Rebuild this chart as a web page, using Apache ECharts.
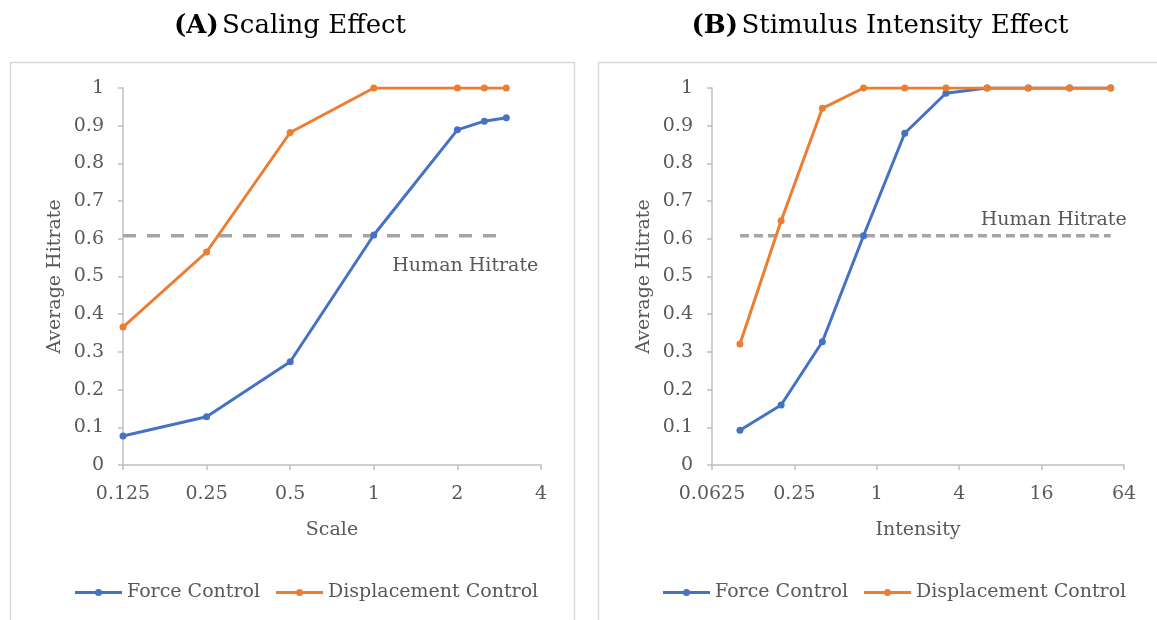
<!DOCTYPE html>
<html>
<head>
<meta charset="utf-8">
<script src="https://cdn.jsdelivr.net/npm/echarts@6/dist/echarts.min.js"></script>
<style>
  html, body { margin: 0; padding: 0; background: #ffffff; }
  #chart { width: 1157px; height: 620px; }
</style>
</head>
<body>
<div id="chart"></div>
<script>
// Panel A: hit rate against object scale
const scaleValues = [0.125, 0.25, 0.5, 1, 2, 2.5, 3];
const scaleForce = [0.077, 0.128, 0.274, 0.61, 0.889, 0.912, 0.921];
const scaleDisplacement = [0.366, 0.565, 0.882, 1, 1, 1, 1];
const scaleTicks = [0.125, 0.25, 0.5, 1, 2, 4];

// Panel B: hit rate against stimulus intensity
const intensityValues = [0.1, 0.2, 0.4, 0.8, 1.6, 3.2, 6.4, 12.8, 25.6, 51.2];
const intensityForce = [0.092, 0.159, 0.327, 0.608, 0.88, 0.986, 1, 1, 1, 1];
const intensityDisplacement = [0.321, 0.648, 0.946, 1, 1, 1, 1, 1, 1, 1];
const intensityTicks = [0.0625, 0.25, 1, 4, 16, 64];

// Reference level
const humanHitrate = 0.608;

const seriesNames = ['Force Control', 'Displacement Control'];

const FONT = 'DejaVu Serif';
const FS = 19;
const TEXT = '#595959';
const AXIS = '#bfbfbf';
const BLUE = '#4472c4';
const ORANGE = '#ed7d31';
const GREY = '#a5a5a5';

// Legend key: a 3px bar with a dot in the middle (47 x 7 box)
const LEGEND_ICON = 'path://M0,2h47v3h-47z M23.5,0a3.5,3.5 0 1 1 0,7a3.5,3.5 0 1 1 0,-7z';

const pairs = (xs, ys) => xs.map((x, i) => [x, ys[i]]);
const fmtTick = v => String(+Number(v).toPrecision(6));

function xAxisFor(gridIndex, ticks, name, interval) {
  return {
    type: 'log', logBase: 2, gridIndex,
    min: ticks[0], max: ticks[ticks.length - 1], interval,
    name, nameLocation: 'middle', nameGap: 56,
    nameTextStyle: { fontFamily: FONT, fontSize: FS, color: TEXT },
    axisLine: { show: true, lineStyle: { color: AXIS, width: 1.5 } },
    axisTick: { show: true, length: 5, lineStyle: { color: AXIS, width: 1.5 } },
    axisLabel: { fontFamily: FONT, fontSize: FS, color: TEXT, margin: 20, formatter: fmtTick },
    splitLine: { show: false }, minorTick: { show: false }
  };
}

function yAxisFor(gridIndex) {
  return {
    type: 'value', gridIndex, min: 0, max: 1, interval: 0.1,
    name: 'Average Hitrate', nameLocation: 'middle', nameGap: 58,
    nameTextStyle: { fontFamily: FONT, fontSize: FS, color: TEXT },
    axisLine: { show: true, lineStyle: { color: AXIS, width: 1.5 } },
    axisTick: { show: true, length: 5, lineStyle: { color: AXIS, width: 1.5 } },
    axisLabel: { fontFamily: FONT, fontSize: FS, color: TEXT, margin: 19,
      formatter: v => fmtTick(v) },
    splitLine: { show: false }
  };
}

function dataLine(name, color, idx, xs, ys, z) {
  return {
    name, type: 'line', xAxisIndex: idx, yAxisIndex: idx,
    data: pairs(xs, ys), symbol: 'circle', symbolSize: 7, showSymbol: true,
    lineStyle: { color, width: 3 }, itemStyle: { color },
    z, animation: false
  };
}

function humanLine(idx, xs, dash, labelOffset) {
  return {
    name: 'Human Hitrate', type: 'line', xAxisIndex: idx, yAxisIndex: idx,
    data: [[xs[0], humanHitrate], [xs[xs.length - 1], humanHitrate]],
    showSymbol: false, symbol: 'none',
    lineStyle: { color: GREY, width: 3.5, type: dash },
    endLabel: {
      show: true, formatter: 'Human Hitrate', distance: 0,
      align: 'right', verticalAlign: 'middle', offset: labelOffset,
      fontFamily: FONT, fontSize: FS, color: TEXT
    },
    z: 2, animation: false, silent: true
  };
}

function legendAt(left) {
  return {
    left, top: 578, orient: 'horizontal',
    data: seriesNames.map(name => ({ name, icon: LEGEND_ICON })),
    itemWidth: 47, itemHeight: 7, itemGap: 16,
    itemStyle: { borderWidth: 0 },
    textStyle: { fontFamily: FONT, fontSize: FS, color: TEXT },
    selectedMode: false
  };
}

const titleRich = {
  b: { fontFamily: FONT, fontSize: 26, fontWeight: 'bold', color: '#000' },
  n: { fontFamily: FONT, fontSize: 26, color: '#000' }
};

const chart = echarts.init(document.getElementById('chart'), null, { renderer: 'canvas' });
chart.setOption({
  backgroundColor: '#ffffff',
  animation: false,
  graphic: [
    { type: 'rect', shape: { x: 10.5, y: 62.5, width: 564, height: 600 },
      style: { fill: 'none', stroke: '#d9d9d9', lineWidth: 1.5 }, silent: true },
    { type: 'rect', shape: { x: 598.5, y: 62.5, width: 600, height: 600 },
      style: { fill: 'none', stroke: '#d9d9d9', lineWidth: 1.5 }, silent: true },
    { type: 'text', x: 290, y: 26,
      style: { text: '{b|(A)} {n|Scaling Effect}', rich: titleRich,
        align: 'center', verticalAlign: 'middle' }, silent: true },
    { type: 'text', x: 880, y: 26,
      style: { text: '{b|(B)} {n|Stimulus Intensity Effect}', rich: titleRich,
        align: 'center', verticalAlign: 'middle' }, silent: true }
  ],
  grid: [
    { left: 123, right: 616, top: 88, bottom: 155 },
    { left: 712, right: 33, top: 88, bottom: 155 }
  ],
  xAxis: [
    xAxisFor(0, scaleTicks, 'Scale', 1),
    xAxisFor(1, intensityTicks, 'Intensity', 2)
  ],
  yAxis: [yAxisFor(0), yAxisFor(1)],
  legend: [legendAt(70), legendAt(658)],
  series: [
    humanLine(0, scaleValues, [13, 11], [32, 30]),
    dataLine(seriesNames[0], BLUE, 0, scaleValues, scaleForce, 3),
    dataLine(seriesNames[1], ORANGE, 0, scaleValues, scaleDisplacement, 4),
    humanLine(1, intensityValues, [9, 5], [16, -16]),
    dataLine(seriesNames[0], BLUE, 1, intensityValues, intensityForce, 3),
    dataLine(seriesNames[1], ORANGE, 1, intensityValues, intensityDisplacement, 4)
  ]
});
</script>
</body>
</html>
